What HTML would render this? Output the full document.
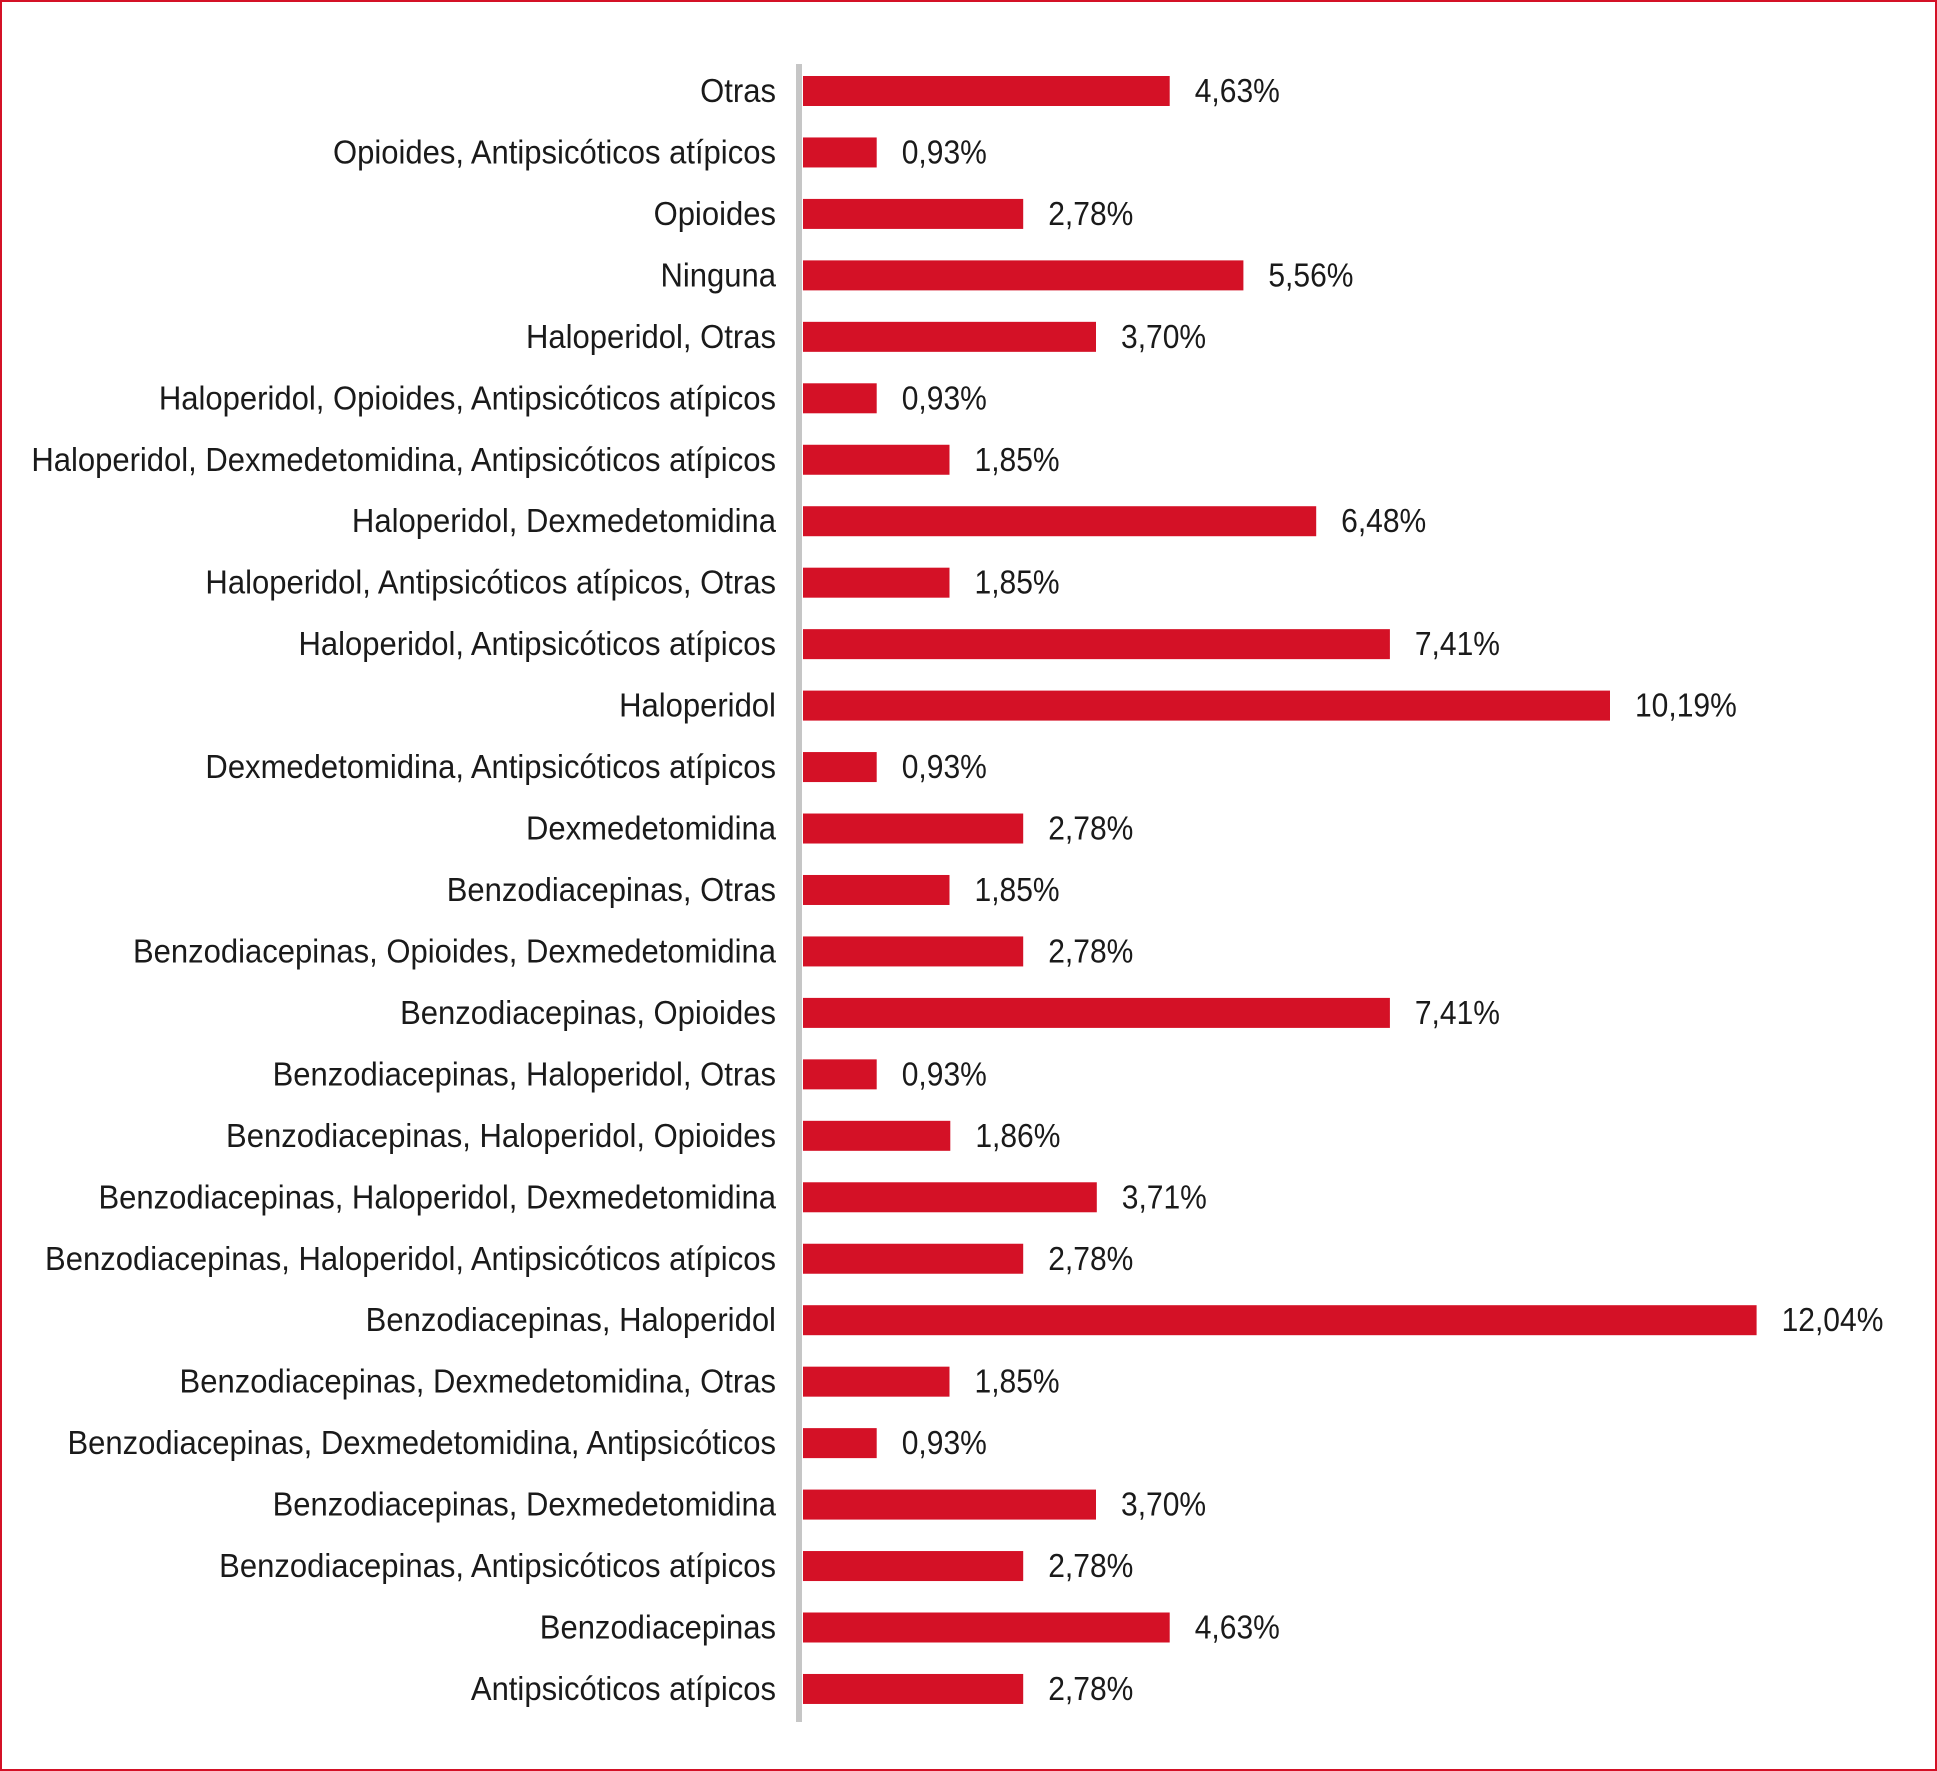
<!DOCTYPE html>
<html><head><meta charset="utf-8"><style>
html,body{margin:0;padding:0;background:#fff;}
svg{display:block;}
text{font-family:"Liberation Sans Narrow","Liberation Sans",sans-serif;font-size:33px;fill:#1a1a1a;}
.l{text-anchor:end;}
rect.b{fill:#d41126;}
</style></head><body>
<svg width="1937" height="1771" viewBox="0 0 1937 1771" xmlns="http://www.w3.org/2000/svg">
<rect x="1" y="1" width="1935" height="1769" fill="#fff" stroke="#d41126" stroke-width="2"/>
<rect x="796" y="64" width="6" height="1658" fill="#c6c6c6"/>
<g transform="translate(0,91)"><rect class="b" x="803" y="-15" width="366.7" height="30"/><text class="l" transform="scale(0.94,1)" x="825.5" y="11">Otras</text><text transform="scale(0.91,1)" x="1312.9" y="11">4,63%</text></g>
<g transform="translate(0,152.46)"><rect class="b" x="803" y="-15" width="73.7" height="30"/><text class="l" transform="scale(0.94,1)" x="825.5" y="11">Opioides, Antipsicóticos atípicos</text><text transform="scale(0.91,1)" x="990.9" y="11">0,93%</text></g>
<g transform="translate(0,213.92)"><rect class="b" x="803" y="-15" width="220.2" height="30"/><text class="l" transform="scale(0.94,1)" x="825.5" y="11">Opioides</text><text transform="scale(0.91,1)" x="1151.9" y="11">2,78%</text></g>
<g transform="translate(0,275.38)"><rect class="b" x="803" y="-15" width="440.4" height="30"/><text class="l" transform="scale(0.94,1)" x="825.5" y="11">Ninguna</text><text transform="scale(0.91,1)" x="1393.8" y="11">5,56%</text></g>
<g transform="translate(0,336.84)"><rect class="b" x="803" y="-15" width="293" height="30"/><text class="l" transform="scale(0.94,1)" x="825.5" y="11">Haloperidol, Otras</text><text transform="scale(0.91,1)" x="1231.9" y="11">3,70%</text></g>
<g transform="translate(0,398.3)"><rect class="b" x="803" y="-15" width="73.7" height="30"/><text class="l" transform="scale(0.94,1)" x="825.5" y="11">Haloperidol, Opioides, Antipsicóticos atípicos</text><text transform="scale(0.91,1)" x="990.9" y="11">0,93%</text></g>
<g transform="translate(0,459.76)"><rect class="b" x="803" y="-15" width="146.5" height="30"/><text class="l" transform="scale(0.94,1)" x="825.5" y="11">Haloperidol, Dexmedetomidina, Antipsicóticos atípicos</text><text transform="scale(0.91,1)" x="1070.9" y="11">1,85%</text></g>
<g transform="translate(0,521.22)"><rect class="b" x="803" y="-15" width="513.2" height="30"/><text class="l" transform="scale(0.94,1)" x="825.5" y="11">Haloperidol, Dexmedetomidina</text><text transform="scale(0.91,1)" x="1473.8" y="11">6,48%</text></g>
<g transform="translate(0,582.68)"><rect class="b" x="803" y="-15" width="146.5" height="30"/><text class="l" transform="scale(0.94,1)" x="825.5" y="11">Haloperidol, Antipsicóticos atípicos, Otras</text><text transform="scale(0.91,1)" x="1070.9" y="11">1,85%</text></g>
<g transform="translate(0,644.14)"><rect class="b" x="803" y="-15" width="586.9" height="30"/><text class="l" transform="scale(0.94,1)" x="825.5" y="11">Haloperidol, Antipsicóticos atípicos</text><text transform="scale(0.91,1)" x="1554.8" y="11">7,41%</text></g>
<g transform="translate(0,705.6)"><rect class="b" x="803" y="-15" width="807" height="30"/><text class="l" transform="scale(0.94,1)" x="825.5" y="11">Haloperidol</text><text transform="scale(0.91,1)" x="1796.7" y="11">10,19%</text></g>
<g transform="translate(0,767.06)"><rect class="b" x="803" y="-15" width="73.7" height="30"/><text class="l" transform="scale(0.94,1)" x="825.5" y="11">Dexmedetomidina, Antipsicóticos atípicos</text><text transform="scale(0.91,1)" x="990.9" y="11">0,93%</text></g>
<g transform="translate(0,828.52)"><rect class="b" x="803" y="-15" width="220.2" height="30"/><text class="l" transform="scale(0.94,1)" x="825.5" y="11">Dexmedetomidina</text><text transform="scale(0.91,1)" x="1151.9" y="11">2,78%</text></g>
<g transform="translate(0,889.98)"><rect class="b" x="803" y="-15" width="146.5" height="30"/><text class="l" transform="scale(0.94,1)" x="825.5" y="11">Benzodiacepinas, Otras</text><text transform="scale(0.91,1)" x="1070.9" y="11">1,85%</text></g>
<g transform="translate(0,951.44)"><rect class="b" x="803" y="-15" width="220.2" height="30"/><text class="l" transform="scale(0.94,1)" x="825.5" y="11">Benzodiacepinas, Opioides, Dexmedetomidina</text><text transform="scale(0.91,1)" x="1151.9" y="11">2,78%</text></g>
<g transform="translate(0,1012.9)"><rect class="b" x="803" y="-15" width="586.9" height="30"/><text class="l" transform="scale(0.94,1)" x="825.5" y="11">Benzodiacepinas, Opioides</text><text transform="scale(0.91,1)" x="1554.8" y="11">7,41%</text></g>
<g transform="translate(0,1074.36)"><rect class="b" x="803" y="-15" width="73.7" height="30"/><text class="l" transform="scale(0.94,1)" x="825.5" y="11">Benzodiacepinas, Haloperidol, Otras</text><text transform="scale(0.91,1)" x="990.9" y="11">0,93%</text></g>
<g transform="translate(0,1135.82)"><rect class="b" x="803" y="-15" width="147.3" height="30"/><text class="l" transform="scale(0.94,1)" x="825.5" y="11">Benzodiacepinas, Haloperidol, Opioides</text><text transform="scale(0.91,1)" x="1071.8" y="11">1,86%</text></g>
<g transform="translate(0,1197.28)"><rect class="b" x="803" y="-15" width="293.8" height="30"/><text class="l" transform="scale(0.94,1)" x="825.5" y="11">Benzodiacepinas, Haloperidol, Dexmedetomidina</text><text transform="scale(0.91,1)" x="1232.7" y="11">3,71%</text></g>
<g transform="translate(0,1258.74)"><rect class="b" x="803" y="-15" width="220.2" height="30"/><text class="l" transform="scale(0.94,1)" x="825.5" y="11">Benzodiacepinas, Haloperidol, Antipsicóticos atípicos</text><text transform="scale(0.91,1)" x="1151.9" y="11">2,78%</text></g>
<g transform="translate(0,1320.2)"><rect class="b" x="803" y="-15" width="953.6" height="30"/><text class="l" transform="scale(0.94,1)" x="825.5" y="11">Benzodiacepinas, Haloperidol</text><text transform="scale(0.91,1)" x="1957.8" y="11">12,04%</text></g>
<g transform="translate(0,1381.66)"><rect class="b" x="803" y="-15" width="146.5" height="30"/><text class="l" transform="scale(0.94,1)" x="825.5" y="11">Benzodiacepinas, Dexmedetomidina, Otras</text><text transform="scale(0.91,1)" x="1070.9" y="11">1,85%</text></g>
<g transform="translate(0,1443.12)"><rect class="b" x="803" y="-15" width="73.7" height="30"/><text class="l" transform="scale(0.94,1)" x="825.5" y="11">Benzodiacepinas, Dexmedetomidina, Antipsicóticos</text><text transform="scale(0.91,1)" x="990.9" y="11">0,93%</text></g>
<g transform="translate(0,1504.58)"><rect class="b" x="803" y="-15" width="293" height="30"/><text class="l" transform="scale(0.94,1)" x="825.5" y="11">Benzodiacepinas, Dexmedetomidina</text><text transform="scale(0.91,1)" x="1231.9" y="11">3,70%</text></g>
<g transform="translate(0,1566.04)"><rect class="b" x="803" y="-15" width="220.2" height="30"/><text class="l" transform="scale(0.94,1)" x="825.5" y="11">Benzodiacepinas, Antipsicóticos atípicos</text><text transform="scale(0.91,1)" x="1151.9" y="11">2,78%</text></g>
<g transform="translate(0,1627.5)"><rect class="b" x="803" y="-15" width="366.7" height="30"/><text class="l" transform="scale(0.94,1)" x="825.5" y="11">Benzodiacepinas</text><text transform="scale(0.91,1)" x="1312.9" y="11">4,63%</text></g>
<g transform="translate(0,1688.96)"><rect class="b" x="803" y="-15" width="220.2" height="30"/><text class="l" transform="scale(0.94,1)" x="825.5" y="11">Antipsicóticos atípicos</text><text transform="scale(0.91,1)" x="1151.9" y="11">2,78%</text></g>
</svg>
</body></html>
